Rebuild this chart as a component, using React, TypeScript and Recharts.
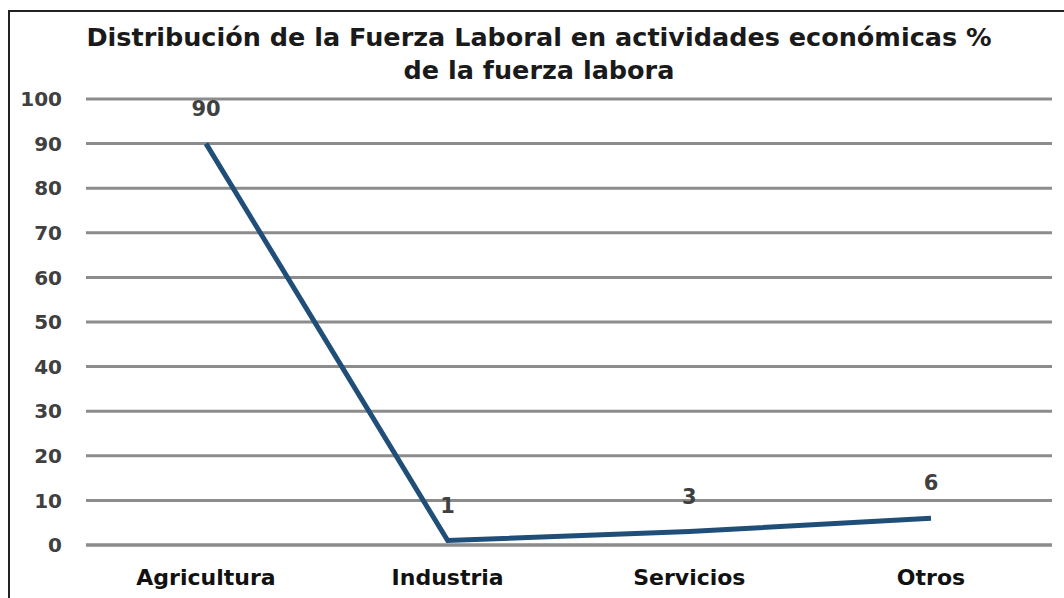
import { LineChart, Line, XAxis, YAxis, CartesianGrid, LabelList } from "recharts"

const categories = ["Agricultura", "Industria", "Servicios", "Otros"]
const values = [90, 1, 3, 6]
const yTicks = [0, 10, 20, 30, 40, 50, 60, 70, 80, 90, 100]
const titleLines = [
  "Distribución de la Fuerza Laboral en actividades económicas %",
  "de la fuerza labora",
]

const data = categories.map((name, i) => ({ name, value: values[i] }))

const font = "'DejaVu Sans', sans-serif"
const grey = "#8c8c8c"
const textColor = "#404040"

export default function App() {
  return (
    <div
      style={{
        position: "absolute",
        left: 8,
        top: 10,
        width: 1056,
        height: 588,
        borderLeft: "2px solid #222",
        borderTop: "2px solid #222",
        background: "#fff",
        overflow: "hidden",
        fontFamily: font,
      }}
    >
      <div
        style={{
          position: "absolute",
          left: 0,
          top: 9,
          width: 1058,
          textAlign: "center",
          fontWeight: "bold",
          fontSize: 25.5,
          lineHeight: "33px",
          color: "#1a1a1a",
        }}
      >
        {titleLines.map((t) => (
          <div key={t}>{t}</div>
        ))}
      </div>
      <LineChart
        width={1056}
        height={588}
        data={data}
        margin={{ top: 87, right: 14, bottom: 15, left: 16 }}
        style={{ position: "absolute", left: 0, top: 0 }}
      >
        <CartesianGrid vertical={false} stroke={grey} strokeWidth={3} />
        <XAxis
          dataKey="name"
          height={40}
          padding={{ left: 120, right: 121 }}
          axisLine={{ stroke: grey, strokeWidth: 3 }}
          tickLine={false}
          tickSize={0}
          tickMargin={24}
          tick={{ fill: "#111", fontSize: 22, fontWeight: "bold", fontFamily: font }}
        />
        <YAxis
          width={60}
          domain={[0, 100]}
          ticks={yTicks}
          axisLine={false}
          tickLine={false}
          tickSize={0}
          tickMargin={24}
          tick={{ fill: textColor, fontSize: 20, fontWeight: "bold", fontFamily: font }}
        />
        <Line
          type="linear"
          dataKey="value"
          stroke="#1f4e79"
          strokeWidth={5}
          dot={false}
          activeDot={false}
          isAnimationActive={false}
        >
          <LabelList
            dataKey="value"
            position="top"
            offset={28}
            fill={textColor}
            fontSize={21}
            fontWeight="bold"
            fontFamily={font}
          />
        </Line>
      </LineChart>
    </div>
  )
}
